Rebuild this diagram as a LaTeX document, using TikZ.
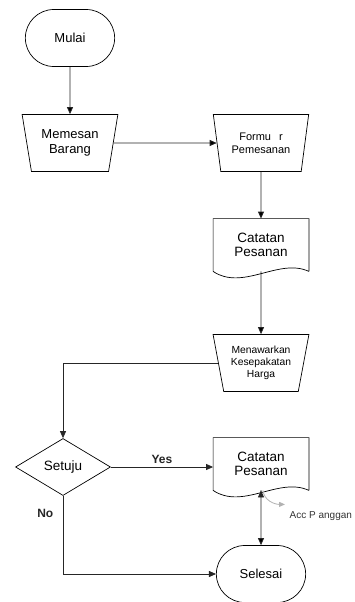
\documentclass[tikz,border=0pt]{standalone}
\usepackage{fontspec}
\setmainfont{Liberation Sans}
\usetikzlibrary{arrows.meta,shapes.geometric,shapes.misc}

% document symbol drawn around a (plain) node
\newcommand{\docshape}[1]{%
  \draw[-,line width=0.7pt] (#1.south east) -- (#1.north east) -- (#1.north west) -- (#1.south west)
    .. controls ([xshift=30pt,yshift=-20pt]#1.south west) and ([xshift=-30pt,yshift=14pt]#1.south east) .. (#1.south east);}

\begin{document}
\begin{tikzpicture}[->,>={Triangle[length=7pt,width=6pt]},node distance=105pt,
  line width=0.8pt,
  term node/.style={rounded rectangle,draw,line width=0.7pt,minimum width=96pt,minimum height=57pt,
    font=\fontsize{13}{15}\selectfont},
  manual node/.style={trapezium,trapezium stretches=true,shape border rotate=180,
    trapezium left angle=76,trapezium right angle=76,draw,line width=0.7pt,
    minimum width=96pt,minimum height=57pt,align=center,inner sep=1pt,
    font=\fontsize{13}{15}\selectfont},
  doc node/.style={rectangle,minimum width=95pt,minimum height=52pt,align=center,
    font=\fontsize{13.5}{13.5}\selectfont},
  decision node/.style={diamond,draw,line width=0.7pt,aspect=1.67,minimum width=95pt,
    minimum height=57pt,inner sep=0pt,font=\fontsize{13.5}{15}\selectfont},
  label text/.style={font=\bfseries\fontsize{12}{14}\selectfont}]
  \useasboundingbox (0,0) rectangle (355pt,-602pt);

  \node[term node] (mulai) at (70pt,-38pt) {Mulai};
  \node[manual node] (memesan) [below of=mulai] {Memesan\\Barang};
  \node[manual node,font=\fontsize{11}{13}\selectfont] (formulir) [right of=memesan,node distance=191pt] {Formu\hspace{8pt}r\\Pemesanan};
  \node[doc node] (catatan1) [below of=formulir,node distance=102pt] {Catatan\\Pesanan};
  \node[manual node,font=\fontsize{10.3}{12}\selectfont] (menawarkan) [below of=catatan1,node distance=118pt] {Menawarkan\\Kesepakatan\\Harga};
  \node[doc node] (catatan2) [below of=menawarkan,node distance=101pt] {Catatan\\Pesanan};
  \node[decision node] (setuju) [left of=catatan2,node distance=198pt,yshift=-3pt] {Setuju};
  \node[term node] (selesai) [below of=catatan2,node distance=110pt] {Selesai};
  \docshape{catatan1}
  \docshape{catatan2}
  \coordinate (acc) at ([xshift=24pt,yshift=-14pt]catatan2.south);

  \path[draw=black!85]
    (mulai) edge (memesan)
    (memesan) edge (formulir)
    (formulir) edge (catatan1)
    (catatan1.south) edge (menawarkan)
    (catatan2.south) edge (selesai);
  \draw[black!85] (menawarkan) -| (setuju);
  \draw[black!85] (setuju) -- node[above,label text] {Yes} (setuju -| catatan2.west);
  \draw[black!85] (setuju) |- node[pos=0.11,left=6pt,label text] {No} (selesai);
  \draw[gray!60,>={Triangle[length=6pt,width=5pt]}] ([xshift=2pt]catatan2.south) to[out=-85,in=180] (acc)
    node[right=1pt,yshift=-12pt,black!80,font=\fontsize{10}{12}\selectfont] {Acc P anggan};
\end{tikzpicture}
\end{document}
